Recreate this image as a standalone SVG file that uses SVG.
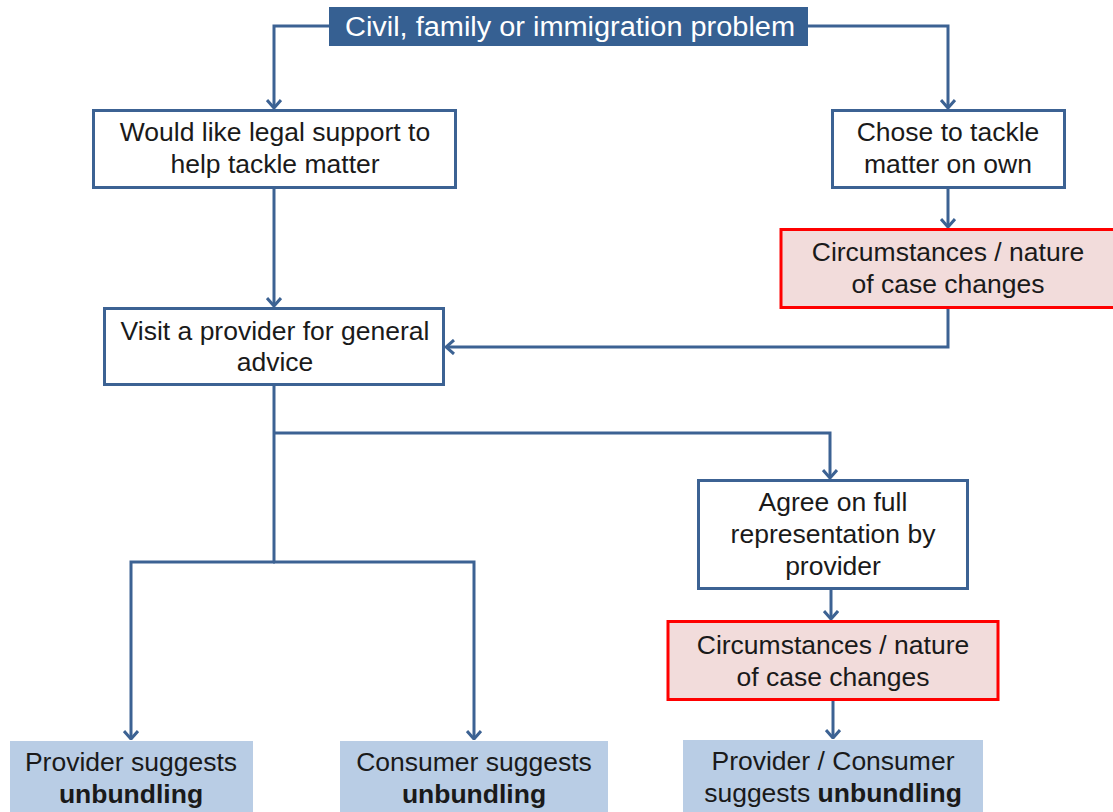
<svg xmlns="http://www.w3.org/2000/svg" width="1113" height="812" viewBox="0 0 1113 812">
<defs>
<style>
.box{fill:#ffffff;stroke:#3c6293;stroke-width:3}
.red{fill:#f2dcdb;stroke:#ff0000;stroke-width:3}
.blue{fill:#b9cde5;stroke:none}
.t{font-family:"Liberation Sans",Arial,sans-serif;font-size:26.5px;fill:#1a1a1a;text-anchor:middle}
.b{font-weight:bold}
.conn{fill:none;stroke:#3c6293;stroke-width:3}
</style>
<marker id="arr" viewBox="0 0 10 16" markerWidth="10" markerHeight="16" refX="9" refY="8" orient="auto" markerUnits="userSpaceOnUse">
<path d="M1,1 L9,8 L1,15" fill="none" stroke="#3c6293" stroke-width="3"/>
</marker>
</defs>
<rect width="1113" height="812" fill="#ffffff"/>
<g id="connectors">
<path class="conn" d="M329,26 H274 V108" marker-end="url(#arr)"/>
<path class="conn" d="M808,26 H948 V108" marker-end="url(#arr)"/>
<path class="conn" d="M274,188 V306" marker-end="url(#arr)"/>
<path class="conn" d="M948,188 V227" marker-end="url(#arr)"/>
<path class="conn" d="M948,308 V347 H446" marker-end="url(#arr)"/>
<path class="conn" d="M274,385 V562"/>
<path class="conn" d="M274,433 H830 V478" marker-end="url(#arr)"/>
<path class="conn" d="M275,562 H131 V739" marker-end="url(#arr)"/>
<path class="conn" d="M273,562 H474 V739" marker-end="url(#arr)"/>
<path class="conn" d="M831,589 V619" marker-end="url(#arr)"/>
<path class="conn" d="M833,700 V738" marker-end="url(#arr)"/>
</g>
<g id="n-top">
<rect x="329" y="7" width="479" height="39" fill="#366092"/>
<text x="570" y="36" font-family="'Liberation Sans',Arial,sans-serif" font-size="27" fill="#ffffff" text-anchor="middle" textLength="450" lengthAdjust="spacingAndGlyphs">Civil, family or immigration problem</text>
</g>
<g id="n-legal">
<rect class="box" x="93.5" y="110.5" width="362" height="77"/>
<text class="t" x="275" y="141">Would like legal support to</text>
<text class="t" x="275" y="173">help tackle matter</text>
</g>
<g id="n-own">
<rect class="box" x="832.5" y="110.5" width="232" height="77"/>
<text class="t" x="948" y="141">Chose to tackle</text>
<text class="t" x="948" y="173">matter on own</text>
</g>
<g id="n-change1">
<rect class="red" x="781" y="229.5" width="334" height="78"/>
<text class="t" x="948" y="261">Circumstances / nature</text>
<text class="t" x="948" y="293">of case changes</text>
</g>
<g id="n-visit">
<rect class="box" x="104.5" y="308.5" width="339" height="76"/>
<text class="t" x="275" y="340">Visit a provider for general</text>
<text class="t" x="275" y="371">advice</text>
</g>
<g id="n-agree">
<rect class="box" x="698.5" y="480.5" width="269" height="108"/>
<text class="t" x="833" y="511">Agree on full</text>
<text class="t" x="833" y="543">representation by</text>
<text class="t" x="833" y="575">provider</text>
</g>
<g id="n-change2">
<rect class="red" x="668" y="621.5" width="330" height="78"/>
<text class="t" x="833" y="654">Circumstances / nature</text>
<text class="t" x="833" y="686">of case changes</text>
</g>
<g id="n-provider">
<rect class="blue" x="10" y="741" width="243" height="71"/>
<text class="t" x="131" y="771">Provider suggests</text>
<text class="t b" x="131" y="803">unbundling</text>
</g>
<g id="n-consumer">
<rect class="blue" x="340" y="741" width="268" height="71"/>
<text class="t" x="474" y="771">Consumer suggests</text>
<text class="t b" x="474" y="803">unbundling</text>
</g>
<g id="n-both">
<rect class="blue" x="683" y="740" width="300" height="72"/>
<text class="t" x="833" y="770">Provider / Consumer</text>
<text class="t" x="833" y="802">suggests <tspan class="b">unbundling</tspan></text>
</g>
</svg>
